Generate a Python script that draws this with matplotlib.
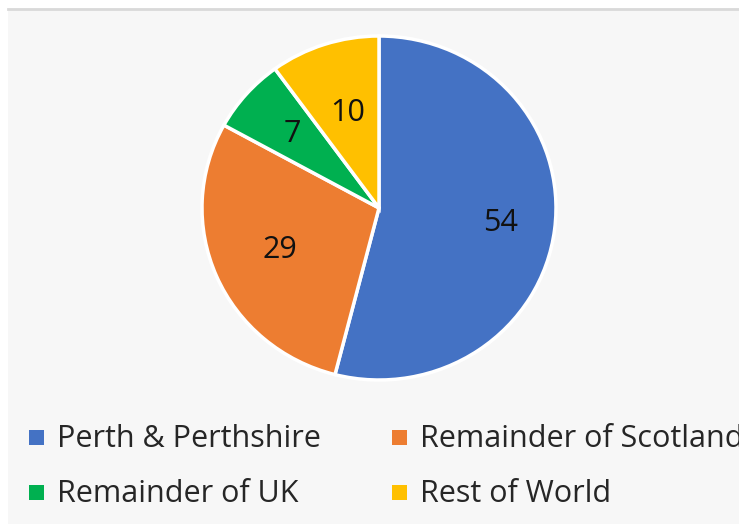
import numpy as np
import matplotlib.pyplot as plt
from matplotlib.patches import Rectangle

# Data
labels = ["Perth & Perthshire", "Remainder of Scotland", "Remainder of UK", "Rest of World"]
values = [54, 29, 7, 10]
colors = ["#4472C4", "#ED7D31", "#00B050", "#FFC000"]
label_dist = [0.69, 0.61, 0.65, 0.58]  # how far out each number sits

W, H = 739, 524
font = ["Open Sans", "DejaVu Sans"]

fig = plt.figure(figsize=(W / 100, H / 100), dpi=100)
fig.patch.set_facecolor("white")

# background layer in pixel coords
bg = fig.add_axes([0, 0, 1, 1])
bg.set_xlim(0, W)
bg.set_ylim(0, H)
bg.axis("off")
bg.add_patch(Rectangle((8, 0), W - 8, H - 8, facecolor="#f7f7f7", edgecolor="none", zorder=0))
bg.plot([8, W], [H - 8.5, H - 8.5], color="#d9d9d9", lw=2, zorder=1)

# legend, two columns
legend_pos = [(29, 447), (392, 447), (29, 502), (392, 502)]
for (x, y), lab, col in zip(legend_pos, labels, colors):
    bg.add_patch(Rectangle((x, H - y + 2), 15, 15, facecolor=col, edgecolor="none", zorder=3))
    bg.text(x + 28, H - y, lab, fontsize=22, color="#262626", family=font,
            va="baseline", ha="left", zorder=3)

# pie (slightly wider than tall, like the original)
cx, cy, rx, ry = 379, 208, 177, 172
ax = fig.add_axes([(cx - rx) / W, (H - cy - ry) / H, 2 * rx / W, 2 * ry / H])
wedges, _ = ax.pie(values, colors=colors, startangle=90, counterclock=False,
                   radius=1, wedgeprops=dict(edgecolor="white", linewidth=2.5))
ax.set_xlim(-1, 1)
ax.set_ylim(-1, 1)
ax.set_aspect("auto")
ax.axis("off")

for w, v, d in zip(wedges, values, label_dist):
    ang = np.deg2rad((w.theta1 + w.theta2) / 2)
    ax.text(d * np.cos(ang), d * np.sin(ang), str(v), fontsize=22, color="#111111",
            family=font, ha="center", va="center")

fig.savefig("out.png", dpi=100)
